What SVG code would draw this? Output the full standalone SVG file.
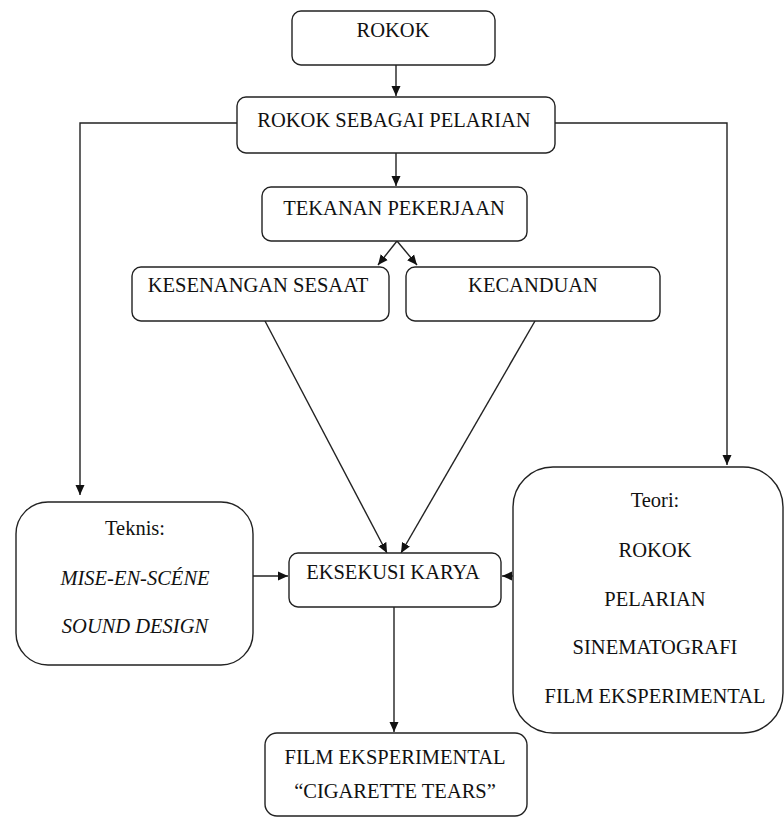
<svg xmlns="http://www.w3.org/2000/svg" width="784" height="817" viewBox="0 0 784 817">
<defs>
<marker id="ah" markerUnits="userSpaceOnUse" markerWidth="10" markerHeight="10" refX="10" refY="5" orient="auto">
<path d="M0,0.5 L10,5 L0,9.5 z" fill="#111"/>
</marker>
<style>
.box{fill:#fff;stroke:#222;stroke-width:1.4}
.t{font-family:'Liberation Serif','Times New Roman','DejaVu Serif',serif;font-size:20.5px;fill:#111;text-anchor:middle}
.i{font-style:italic}
.c{fill:none;stroke:#222;stroke-width:1.4}
</style>
</defs>
<rect width="784" height="817" fill="#fff"/>
<g id="connectors">
<line class="c" x1="396" y1="65" x2="396" y2="96" marker-end="url(#ah)"/>
<line class="c" x1="396" y1="153" x2="396" y2="186" marker-end="url(#ah)"/>
<line class="c" x1="397" y1="241" x2="378" y2="265" marker-end="url(#ah)"/>
<line class="c" x1="397" y1="241" x2="417" y2="265" marker-end="url(#ah)"/>
<polyline class="c" points="237,123 80,123 80,495" marker-end="url(#ah)"/>
<polyline class="c" points="555,123 727,123 727,465" marker-end="url(#ah)"/>
<line class="c" x1="265" y1="321" x2="387" y2="553" marker-end="url(#ah)"/>
<line class="c" x1="535" y1="321" x2="401" y2="553" marker-end="url(#ah)"/>
<line class="c" x1="253" y1="576" x2="288" y2="576" marker-end="url(#ah)"/>
<line class="c" x1="513" y1="576" x2="502" y2="576" marker-end="url(#ah)"/>
<line class="c" x1="394" y1="607" x2="394" y2="732" marker-end="url(#ah)"/>
</g>
<g font-family="Liberation Serif, Times New Roman, DejaVu Serif, serif">
<g id="rokok">
<rect class="box" x="292" y="11" width="203" height="54" rx="9"/>
<text class="t" x="393" y="37">ROKOK</text>
</g>
<g id="pelarian">
<rect class="box" x="237" y="97" width="318" height="56" rx="9"/>
<text class="t" x="394" y="127">ROKOK SEBAGAI PELARIAN</text>
</g>
<g id="tekanan">
<rect class="box" x="262" y="187" width="265" height="54" rx="9"/>
<text class="t" x="394" y="215">TEKANAN PEKERJAAN</text>
</g>
<g id="kesenangan">
<rect class="box" x="132" y="267" width="257" height="54" rx="9"/>
<text class="t" x="258" y="292">KESENANGAN SESAAT</text>
</g>
<g id="kecanduan">
<rect class="box" x="406" y="267" width="254" height="54" rx="9"/>
<text class="t" x="533" y="292">KECANDUAN</text>
</g>
<g id="teknis">
<rect class="box" x="16" y="502" width="237" height="163" rx="32"/>
<text class="t" x="135" y="535">Teknis:</text>
<text class="t i" x="135" y="585">MISE-EN-SCÉNE</text>
<text class="t i" x="135" y="633">SOUND DESIGN</text>
</g>
<g id="eksekusi">
<rect class="box" x="289" y="553" width="212" height="54" rx="9"/>
<text class="t" x="393" y="579">EKSEKUSI KARYA</text>
</g>
<g id="teori">
<rect class="box" x="513" y="467" width="270" height="266" rx="40"/>
<text class="t" x="655" y="507">Teori:</text>
<text class="t" x="655" y="557">ROKOK</text>
<text class="t" x="655" y="606">PELARIAN</text>
<text class="t" x="655" y="654">SINEMATOGRAFI</text>
<text class="t" x="655" y="703">FILM EKSPERIMENTAL</text>
</g>
<g id="film">
<rect class="box" x="265" y="733" width="262" height="83" rx="12"/>
<text class="t" x="395" y="764">FILM EKSPERIMENTAL</text>
<text class="t" x="395" y="798">“CIGARETTE TEARS”</text>
</g>
</g>
</svg>
